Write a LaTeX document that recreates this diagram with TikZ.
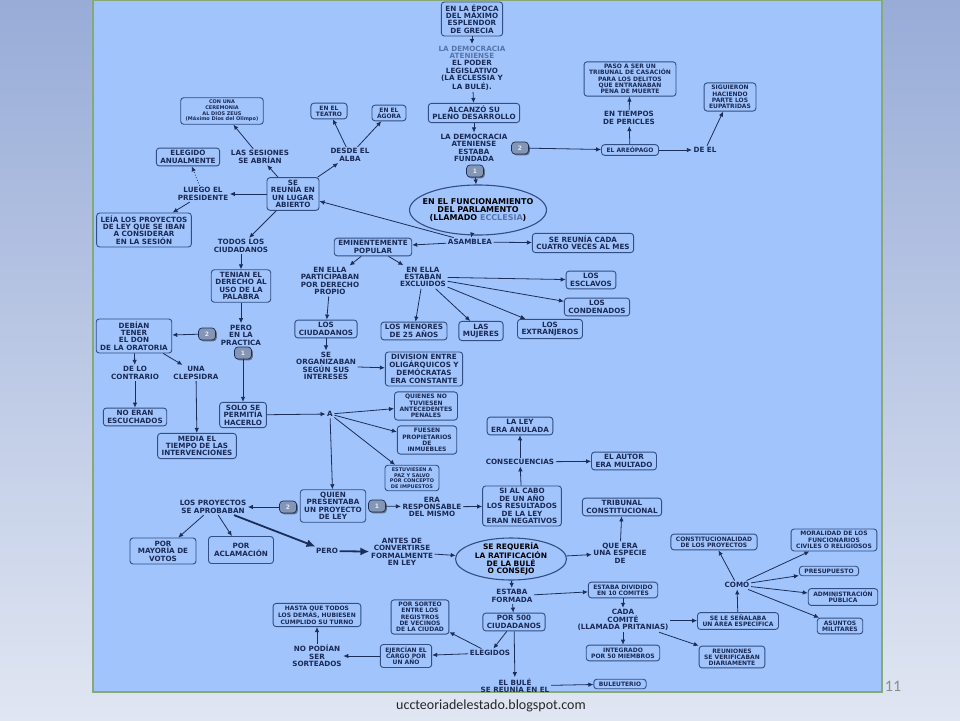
\documentclass[tikz,border=0pt]{standalone}
\usepackage{fontspec}
\setmainfont{DejaVu Sans}
\newfontfamily\slidefont{Carlito}
\usepackage{xcolor}
\usetikzlibrary{shapes,arrows,positioning,shadows,calc,shapes.geometric,arrows.meta}

\definecolor{panelblue}{RGB}{161,196,252}
\definecolor{boxline}{RGB}{50,78,130}
\definecolor{linenavy}{RGB}{28,46,88}
\definecolor{ink}{RGB}{26,42,84}
\definecolor{lightink}{RGB}{86,116,172}
\definecolor{badgegray}{RGB}{132,150,182}
\definecolor{framegreen}{RGB}{138,168,118}
\definecolor{slidetop}{RGB}{152,172,216}
\definecolor{slidebot}{RGB}{224,230,242}

\begin{document}
\begin{tikzpicture}[x=1pt, y=-1pt,
			box/.style={draw=boxline, line width=0.9pt, rounded corners=3pt, fill=panelblue, align=center, text=ink, font=\bfseries\fontsize{7.2}{7.4}\selectfont, inner xsep=4pt, inner ysep=2.5pt},
			sbox/.style={box, font=\bfseries\fontsize{6}{6.2}\selectfont, inner xsep=5pt},
			tbox/.style={box, font=\bfseries\fontsize{5}{5.6}\selectfont, inner xsep=5pt},
			link/.style={align=center, text=ink, font=\bfseries\fontsize{7.2}{7.4}\selectfont, inner sep=1.5pt},
			oval/.style={ellipse, draw=boxline, line width=1.1pt, fill=panelblue, align=center, inner sep=-20pt, text=black},
			badge/.style={draw=linenavy, line width=0.7pt, rounded corners=3.5pt, fill=badgegray, text=white!90!ink, minimum width=17pt, minimum height=12pt, inner sep=0pt, font=\bfseries\fontsize{6}{6}\selectfont, drop shadow={shadow xshift=1.3pt, shadow yshift=-1.3pt, fill=black!70, opacity=0.7}},
			arrow/.style={-{Latex[length=5pt,width=4.5pt]}, line width=0.8pt, draw=linenavy},
			bigarrow/.style={-{Latex[length=9pt,width=8pt]}, line width=1.8pt, draw=linenavy}]
			\useasboundingbox (0,0) rectangle (960,720);
			\shade[top color=slidetop, bottom color=slidebot] (0,0) rectangle (960,720);
			\draw[framegreen, line width=1.5pt, fill=panelblue] (93,0) rectangle (882,692);
			
			\node[box] (epoca) at (472,19) {EN LA ÉPOCA\\DEL MÁXIMO\\ESPLENDOR\\DE GRECIA};
			\node[link] (poder) at (472,68) {\textcolor{lightink}{LA DEMOCRACIA}\\\textcolor{lightink}{ATENIENSE}\\EL PODER\\LEGISLATIVO\\(LA ECLESSIA Y\\LA BULÉ).};
			\node[box] (alcanzo) at (474,113) {ALCANZÓ SU\\PLENO DESARROLLO};
			\node[link] (fundada) at (474,148) {LA DEMOCRACIA\\ATENIENSE\\ESTABA\\FUNDADA};
			\node[badge] (bOneTop) at (475,171) {1};
			\node[badge] (bTwoTop) at (520,148) {2};
			\node[sbox] (areopago) at (630,150) {EL AREÓPAGO};
			\node[link] (pericles) at (629,118) {EN TIEMPOS\\DE PERICLES};
			\node[sbox] (casacion) at (630,79) {PASO A SER UN\\TRIBUNAL DE CASACIÓN\\PARA LOS DELITOS\\QUE ENTRAÑABAN\\PENA DE MUERTE};
			\node[link] (deel) at (705,150) {DE EL};
			\node[sbox] (eupatridas) at (730,97) {SIGUIERON\\HACIENDO\\PARTE LOS\\EUPÁTRIDAS};
			\node[oval, minimum width=137pt, minimum height=50pt, font=\bfseries\fontsize{8}{8}\selectfont] (ecclesia) at (478,210) {EN EL FUNCIONAMIENTO\\DEL PARLAMENTO\\(LLAMADO \textcolor{lightink}{ECCLESIA})};
			\node[link] (asamblea) at (470,242) {ASAMBLEA};
			\node[box] (popular) at (373,247) {EMINENTEMENTE\\POPULAR};
			\node[box] (cuatro) at (583,243) {SE REUNÍA CADA\\CUATRO VECES AL MES};
			
			\node[box] (lugar) at (293,194) {SE\\REUNÍA EN\\UN LUGAR\\ABIERTO};
			\node[link] (sesiones) at (260,157) {LAS SESIONES\\SE ABRÍAN};
			\node[tbox] (zeus) at (222,111) {CON UNA\\CEREMONIA\\AL DIOS ZEUS\\(Máximo Dios del Olimpo)};
			\node[link] (alba) at (350,155) {DESDE EL\\ALBA};
			\node[sbox] (teatro) at (329,111) {EN EL\\TEATRO};
			\node[sbox] (agora) at (389,113) {EN EL\\ÁGORA};
			\node[link] (presidente) at (203,194) {LUEGO EL\\PRESIDENTE};
			\node[box] (anual) at (188,157) {ELEGIDO\\ANUALMENTE};
			\node[box] (leia) at (144,230) {LEÍA LOS PROYECTOS\\DE LEY QUE SE IBAN\\A CONSIDERAR\\EN LA SESIÓN};
			\node[link] (todos) at (241,246) {TODOS LOS\\CIUDADANOS};
			\node[box] (derecho) at (241,286) {TENIAN EL\\DERECHO AL\\USO DE LA\\PALABRA};
			\node[link] (practica) at (241,335) {PERO\\EN LA\\PRACTICA};
			\node[badge] (bTwoMid) at (207,334) {2};
			\node[badge] (bOneMid) at (243,353) {1};
			\node[box] (oratoria) at (134,336) {DEBÍAN\\TENER\\EL DON\\DE LA ORATORIA};
			\node[link] (contrario) at (135,373) {DE LO\\CONTRARIO};
			\node[box] (noeran) at (135,417) {NO ERAN\\ESCUCHADOS};
			\node[link] (clepsidra) at (196,373) {UNA\\CLEPSIDRA};
			\node[box] (media) at (197,446) {MEDIA EL\\TIEMPO DE LAS\\INTERVENCIONES};
			\node[box] (solo) at (243,415) {SOLO SE\\PERMITÍA\\HACERLO};
			\node[link] (aA) at (330,414) {A};
			\node[sbox] (penales) at (426,406) {QUIENES NO\\TUVIESEN\\ANTECEDENTES\\PENALES};
			\node[sbox] (inmuebles) at (427,440) {FUESEN\\PROPIETARIOS\\DE\\INMUEBLES};
			\node[tbox] (impuestos) at (412,478) {ESTUVIESEN A\\PAZ Y SALVO\\POR CONCEPTO\\DE IMPUESTOS};
			
			\node[link] (participaban) at (330,281) {EN ELLA\\PARTICIPABAN\\POR DERECHO\\PROPIO};
			\node[link] (excluidos) at (423,277) {EN ELLA\\ESTABAN\\EXCLUIDOS};
			\node[box] (ciudadanos) at (326,329) {LOS\\CIUDADANOS};
			\node[link] (organizaban) at (326,366) {SE\\ORGANIZABAN\\SEGÚN SUS\\INTERESES};
			\node[box] (division) at (424,369) {DIVISION ENTRE\\OLIGÁRQUICOS Y\\DEMÓCRATAS\\ERA CONSTANTE};
			\node[box] (esclavos) at (591,280) {LOS\\ESCLAVOS};
			\node[box] (condenados) at (597,307) {LOS\\CONDENADOS};
			\node[box] (menores) at (414,331) {LOS MENORES\\DE 25 AÑOS};
			\node[box] (mujeres) at (481,331) {LAS\\MUJERES};
			\node[box] (extranjeros) at (550,329) {LOS\\EXTRANJEROS};
			
			\node[box] (quien) at (333,506) {QUIEN\\PRESENTABA\\UN PROYECTO\\DE LEY};
			\node[badge] (bOneLow) at (377,506) {1};
			\node[link] (responsable) at (432,507) {ERA\\RESPONSABLE\\DEL MISMO};
			\node[box] (sialcabo) at (522,506) {SI AL CABO\\DE UN AÑO\\LOS RESULTADOS\\DE LA LEY\\ERAN NEGATIVOS};
			\node[link] (consecuencias) at (520,462) {CONSECUENCIAS};
			\node[box] (anulada) at (520,426) {LA LEY\\ERA ANULADA};
			\node[box] (multado) at (624,461) {EL AUTOR\\ERA MULTADO};
			\node[badge] (bTwoLow) at (288,507) {2};
			\node[link] (proyectos) at (213,507) {LOS PROYECTOS\\SE APROBABAN};
			\node[box, minimum width=66pt, minimum height=26pt] (mayoria) at (163,551) {POR\\MAYORÍA DE\\VOTOS};
			\node[box, minimum width=65pt, minimum height=27pt] (aclamacion) at (241,550) {POR\\ACLAMACIÓN};
			\node[link] (pero) at (327,551) {PERO};
			\node[link] (antes) at (402,552) {ANTES DE\\CONVERTIRSE\\FORMALMENTE\\EN LEY};
			\node[oval, minimum width=111pt, minimum height=42pt, font=\bfseries\fontsize{7.5}{7.3}\selectfont] (bule) at (511,559) {SE REQUERÍA\\LA RATIFICACIÓN\\DE LA BULÉ\\O CONSEJO};
			\node[link] (especie) at (620,553) {QUE ERA\\UNA ESPECIE\\DE};
			\node[box] (tribunal) at (622,507) {TRIBUNAL\\CONSTITUCIONAL};
			\node[link] (formada) at (512,596) {ESTABA\\FORMADA};
			\node[sbox] (dividido) at (623,590) {ESTABA DIVIDIDO\\EN 10 COMITÉS};
			\node[link] (comite) at (623,620) {CADA\\COMITÉ\\(LLAMADA PRITANIAS)};
			\node[sbox] (integrado) at (623,653) {INTEGRADO\\POR 50 MIEMBROS};
			\node[sbox] (area) at (738,621) {SE LE SEÑALABA\\UN ÁREA ESPECÍFICA};
			\node[sbox] (reuniones) at (732,657) {REUNIONES\\SE VERIFICABAN\\DIARIAMENTE};
			\node[link] (como) at (737,585) {COMO};
			\node[sbox] (constit) at (714,542) {CONSTITUCIONALIDAD\\DE LOS PROYECTOS};
			\node[sbox] (moralidad) at (834,540) {MORALIDAD DE LOS\\FUNCIONARIOS\\CIVILES O RELIGIOSOS};
			\node[sbox] (presupuesto) at (829,571) {PRESUPUESTO};
			\node[sbox] (admin) at (843,597) {ADMINISTRACIÓN\\PÚBLICA};
			\node[sbox] (asuntos) at (840,626) {ASUNTOS\\MILITARES};
			\node[box] (quinientos) at (514,622) {POR 500\\CIUDADANOS};
			\node[link] (elegidos) at (490,653) {ELEGIDOS};
			\node[link] (reunia) at (515,686) {EL BULÉ\\SE REUNÍA EN EL};
			\node[sbox] (buleuterio) at (620,684) {BULEUTERIO};
			\node[sbox] (sorteo) at (420,617) {POR SORTEO\\ENTRE LOS\\REGISTROS\\DE VECINOS\\DE LA CIUDAD};
			\node[sbox] (ejercian) at (406,656) {EJERCÍAN EL\\CARGO POR\\UN AÑO};
			\node[link] (nopodian) at (317,656) {NO PODÍAN\\SER\\SORTEADOS};
			\node[sbox] (hasta) at (317,615) {HASTA QUE TODOS\\LOS DEMÁS, HUBIESEN\\CUMPLIDO SU TURNO};
			
			\node[text=black!45, font=\slidefont\fontsize{16}{16}\selectfont] (pagenum) at (893,686) {11};
			\node[text=black!85, font=\slidefont\fontsize{14}{14}\selectfont] (footer) at (491,706) {uccteoriadelestado.blogspot.com};
			
			\draw[arrow] (epoca) -- (poder);
			\draw[arrow] (poder) -- (alcanzo);
			\draw[arrow] (alcanzo) -- (fundada);
			\draw[arrow] (bOneTop) -- (ecclesia);
			\draw[arrow] (bTwoTop) -- (areopago);
			\draw[arrow] (areopago) -- (pericles);
			\draw[arrow] (pericles) -- (casacion);
			\draw[arrow] (areopago) -- (deel);
			\draw[arrow] (deel) -- (eupatridas);
			\draw[arrow] (ecclesia) -- (asamblea);
			\draw[arrow] (asamblea) -- (popular);
			\draw[arrow] (asamblea) -- (cuatro);
			\draw[arrow] (asamblea) -- (lugar);
			\draw[arrow] (lugar) -- (sesiones);
			\draw[arrow] (sesiones) -- (zeus);
			\draw[arrow] (lugar) -- (alba);
			\draw[arrow] (alba) -- (teatro);
			\draw[arrow] (alba) -- (agora);
			\draw[arrow] (lugar) -- (presidente);
			\draw[arrow, dotted] (presidente) -- (anual);
			\draw[arrow] (presidente) -- (leia);
			\draw[arrow] (lugar) -- (todos);
			\draw[arrow] (todos) -- (derecho);
			\draw[arrow] (derecho) -- (practica);
			\draw[arrow] (bTwoMid) -- (oratoria);
			\draw[arrow] (bOneMid) -- (solo);
			\draw[arrow] (oratoria) -- (contrario);
			\draw[arrow] (contrario) -- (noeran);
			\draw[arrow] (oratoria) -- (clepsidra);
			\draw[arrow] (clepsidra) -- (media);
			\draw[arrow] (solo) -- (aA);
			\draw[arrow] (aA) -- (penales);
			\draw[arrow] (aA) -- (inmuebles);
			\draw[arrow] (aA) -- (impuestos);
			\draw[arrow] (aA) -- (quien);
			\draw[arrow] (popular) -- (participaban);
			\draw[arrow] (popular) -- (excluidos);
			\draw[arrow] (participaban) -- (ciudadanos);
			\draw[arrow] (ciudadanos) -- (organizaban);
			\draw[arrow] (organizaban) -- (division);
			\draw[arrow] (excluidos) -- (esclavos);
			\draw[arrow] (excluidos) -- (condenados);
			\draw[arrow] (excluidos) -- (menores);
			\draw[arrow] (excluidos) -- (mujeres);
			\draw[arrow] (excluidos) -- (extranjeros);
			\draw[arrow] (bOneLow) -- (responsable);
			\draw[arrow] (responsable) -- (sialcabo);
			\draw[arrow] (sialcabo) -- (consecuencias);
			\draw[arrow] (consecuencias) -- (anulada);
			\draw[arrow] (consecuencias) -- (multado);
			\draw[arrow] (bTwoLow) -- (proyectos);
			\draw[arrow] (proyectos) -- (mayoria);
			\draw[arrow] (proyectos) -- (aclamacion);
			\draw[bigarrow] (proyectos) -- (pero);
			\draw[bigarrow] (pero) -- (antes);
			\draw[arrow] (antes) -- (bule);
			\draw[arrow] (bule) -- (especie);
			\draw[arrow] (especie) -- (tribunal);
			\draw[arrow] (bule) -- (formada);
			\draw[arrow] (formada) -- (dividido);
			\draw[arrow] (dividido) -- (comite);
			\draw[arrow] (comite) -- (integrado);
			\draw[arrow] (comite) -- (area);
			\draw[arrow] (comite) -- (reuniones);
			\draw[arrow] (area) -- (como);
			\draw[arrow] (como) -- (constit);
			\draw[arrow] (como) -- (moralidad);
			\draw[arrow] (como) -- (presupuesto);
			\draw[arrow] (como) -- (admin);
			\draw[arrow] (como) -- (asuntos);
			\draw[arrow] (formada) -- (quinientos);
			\draw[arrow] (quinientos) -- (elegidos);
			\draw[arrow] (quinientos) -- (reunia);
			\draw[arrow] (reunia) -- (buleuterio);
			\draw[arrow] (elegidos) -- (sorteo);
			\draw[arrow] (elegidos) -- (ejercian);
			\draw[arrow] (ejercian) -- (nopodian);
			\draw[arrow] (nopodian) -- (hasta);
		\end{tikzpicture}
\end{document}
